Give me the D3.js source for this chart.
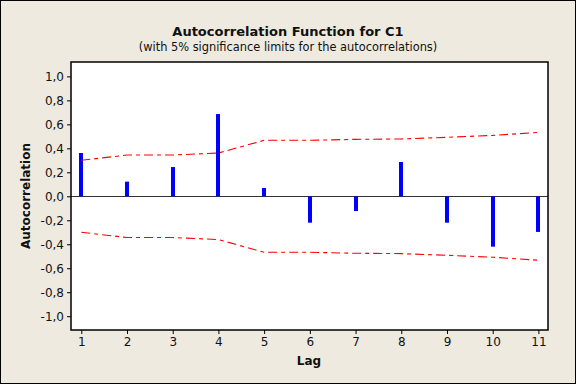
<!DOCTYPE html>
<html>
<head>
<meta charset="utf-8">
<script src="https://cdn.jsdelivr.net/npm/d3@7"></script>
<style>
html, body { margin: 0; padding: 0; background: #EEEAE0; }
svg { display: block; font-family: "DejaVu Sans", sans-serif; }
</style>
</head>
<body>
<svg id="chart" width="576" height="384"></svg>
<script>
const lags = [1, 2, 3, 4, 5, 6, 7, 8, 9, 10, 11];
const acf = [0.361, 0.122, 0.244, 0.686, 0.069, -0.220, -0.123, 0.286, -0.220, -0.420, -0.297];
const upperLimit = [0.300, 0.344, 0.344, 0.361, 0.467, 0.467, 0.475, 0.478, 0.492, 0.508, 0.533];
const lowerLimit = upperLimit.map(v => -v);
const yTicks = [-1.0, -0.8, -0.6, -0.4, -0.2, 0.0, 0.2, 0.4, 0.6, 0.8, 1.0];
const xTicks = lags;

const W = 576, H = 384;
const m = { left: 71, right: 28, top: 62, bottom: 54 };
const svg = d3.select("#chart");

svg.append("rect").attr("x", 0.5).attr("y", 0.5).attr("width", W - 1).attr("height", H - 1)
  .attr("fill", "#EEEAE0").attr("stroke", "#000").attr("stroke-width", 1);

const x = d3.scaleLinear().domain([0.775, 11.21]).range([m.left, W - m.right]);
const y = d3.scaleLinear().domain([-1.115, 1.12]).range([H - m.bottom, m.top]);

svg.append("rect").attr("x", m.left).attr("y", m.top)
  .attr("width", W - m.right - m.left).attr("height", H - m.bottom - m.top)
  .attr("fill", "#fff");

// zero line
svg.append("line").attr("x1", m.left).attr("x2", W - m.right)
  .attr("y1", Math.round(y(0)) + 0.5).attr("y2", Math.round(y(0)) + 0.5)
  .attr("stroke", "#333").attr("stroke-width", 1);

// bars
svg.append("g").selectAll("rect").data(lags).join("rect")
  .attr("x", (d) => Math.round(x(d)) - 2)
  .attr("width", 4)
  .attr("y", (d, i) => y(Math.max(0, acf[i])))
  .attr("height", (d, i) => Math.abs(y(acf[i]) - y(0)))
  .attr("fill", "#0000FF");

// limits
const line = d3.line().x((d, i) => x(lags[i])).y(d => y(d));
[upperLimit, lowerLimit].forEach(arr => {
  svg.append("path").attr("d", line(arr))
    .attr("fill", "none").attr("stroke", "#FF0000").attr("stroke-width", 1.1)
    .attr("stroke-dasharray", "9,4,4,4");
});

// frame
svg.append("rect").attr("x", m.left).attr("y", m.top)
  .attr("width", W - m.right - m.left).attr("height", H - m.bottom - m.top)
  .attr("fill", "none").attr("stroke", "#000").attr("stroke-width", 1.5);

const fmt = v => (Math.abs(v) < 1e-9 ? "0,0" : d3.format(".1f")(v).replace(".", ",").replace("−", "-"));

const yAxis = svg.append("g").attr("transform", `translate(${m.left},0)`)
  .call(d3.axisLeft(y).tickValues(yTicks).tickSize(4).tickPadding(3).tickFormat(fmt));
const xAxis = svg.append("g").attr("transform", `translate(0,${H - m.bottom})`)
  .call(d3.axisBottom(x).tickValues(xTicks).tickSize(4).tickPadding(3).tickFormat(d3.format("d")));
[yAxis, xAxis].forEach(g => {
  g.select(".domain").remove();
  g.selectAll(".tick line").attr("stroke", "#000");
  g.selectAll(".tick text").attr("fill", "#111").style("font-size", "12px").style("font-family", "DejaVu Sans");
});

svg.append("text").attr("x", 288).attr("y", 36).attr("text-anchor", "middle")
  .style("font-size", "13px").style("font-weight", "bold").attr("fill", "#111")
  .text("Autocorrelation Function for C1");
svg.append("text").attr("x", 288).attr("y", 51).attr("text-anchor", "middle")
  .style("font-size", "11.4px").attr("fill", "#111")
  .text("(with 5% significance limits for the autocorrelations)");

svg.append("text").attr("x", 309).attr("y", 365).attr("text-anchor", "middle")
  .style("font-size", "12px").style("font-weight", "bold").attr("fill", "#111")
  .text("Lag");
svg.append("text").attr("transform", `translate(30,196) rotate(-90)`).attr("text-anchor", "middle")
  .style("font-size", "12px").style("font-weight", "bold").attr("fill", "#111")
  .text("Autocorrelation");
</script>
</body>
</html>
